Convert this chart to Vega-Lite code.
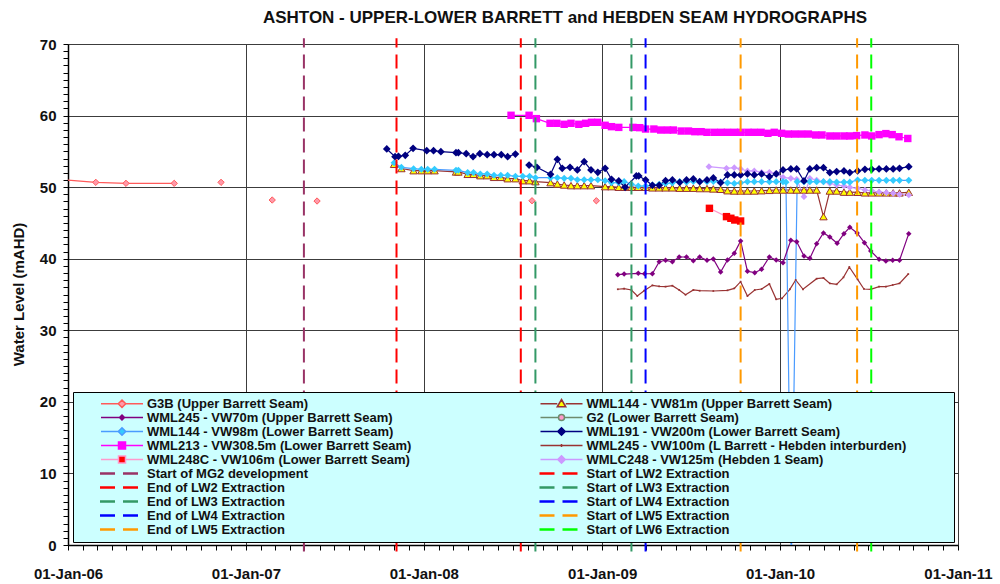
{
  "$schema": "https://vega.github.io/schema/vega-lite/v6.json",
  "width": 890,
  "height": 501,
  "autosize": {"type": "none"},
  "padding": {"left": 68, "top": 44, "right": 42, "bottom": 39},
  "background": "white",
  "config": {"view": {"stroke": null}, "font": "Liberation Sans"},
  "title": {"text": "ASHTON - UPPER-LOWER BARRETT and HEBDEN SEAM HYDROGRAPHS", "font": "Liberation Sans", "fontSize": 17, "fontWeight": "bold", "color": "#111111", "anchor": "middle", "dx": 52, "dy": 11, "offset": 8, "baseline": "alphabetic", "frame": "group"},
  "datasets": {
    "obs": [
      {"s": "G3B (Upper Barrett Seam)", "d": "2005-12-01", "v": 51.15, "g": 1},
      {"s": "G3B (Upper Barrett Seam)", "d": "2006-02-27", "v": 50.67, "g": 1},
      {"s": "G3B (Upper Barrett Seam)", "d": "2006-04-30", "v": 50.53, "g": 1},
      {"s": "G3B (Upper Barrett Seam)", "d": "2006-08-07", "v": 50.53, "g": 1},
      {"s": "G3B (Upper Barrett Seam)", "d": "2006-11-11", "v": 50.67, "g": 2},
      {"s": "G3B (Upper Barrett Seam)", "d": "2007-02-24", "v": 48.2, "g": 3},
      {"s": "G3B (Upper Barrett Seam)", "d": "2007-05-27", "v": 48.06, "g": 4},
      {"s": "G3B (Upper Barrett Seam)", "d": "2008-08-10", "v": 48.1, "g": 5},
      {"s": "G3B (Upper Barrett Seam)", "d": "2008-12-20", "v": 48.1, "g": 6},

      {"s": "WML245 - VW100m (L Barrett - Hebden interburden)", "d": "2009-02-02", "v": 35.73},
      {"s": "WML245 - VW100m (L Barrett - Hebden interburden)", "d": "2009-02-15", "v": 35.81},
      {"s": "WML245 - VW100m (L Barrett - Hebden interburden)", "d": "2009-03-02", "v": 35.63},
      {"s": "WML245 - VW100m (L Barrett - Hebden interburden)", "d": "2009-03-14", "v": 34.79},
      {"s": "WML245 - VW100m (L Barrett - Hebden interburden)", "d": "2009-03-28", "v": 35.53},
      {"s": "WML245 - VW100m (L Barrett - Hebden interburden)", "d": "2009-04-14", "v": 36.28},
      {"s": "WML245 - VW100m (L Barrett - Hebden interburden)", "d": "2009-04-28", "v": 36.14},
      {"s": "WML245 - VW100m (L Barrett - Hebden interburden)", "d": "2009-05-11", "v": 36.1},
      {"s": "WML245 - VW100m (L Barrett - Hebden interburden)", "d": "2009-05-25", "v": 36.23},
      {"s": "WML245 - VW100m (L Barrett - Hebden interburden)", "d": "2009-06-08", "v": 35.63},
      {"s": "WML245 - VW100m (L Barrett - Hebden interburden)", "d": "2009-06-21", "v": 34.97},
      {"s": "WML245 - VW100m (L Barrett - Hebden interburden)", "d": "2009-07-07", "v": 35.63},
      {"s": "WML245 - VW100m (L Barrett - Hebden interburden)", "d": "2009-07-20", "v": 35.53},
      {"s": "WML245 - VW100m (L Barrett - Hebden interburden)", "d": "2009-08-17", "v": 35.49},
      {"s": "WML245 - VW100m (L Barrett - Hebden interburden)", "d": "2009-09-15", "v": 35.58},
      {"s": "WML245 - VW100m (L Barrett - Hebden interburden)", "d": "2009-09-29", "v": 35.86},
      {"s": "WML245 - VW100m (L Barrett - Hebden interburden)", "d": "2009-10-12", "v": 36.79},
      {"s": "WML245 - VW100m (L Barrett - Hebden interburden)", "d": "2009-10-26", "v": 34.79},
      {"s": "WML245 - VW100m (L Barrett - Hebden interburden)", "d": "2009-11-10", "v": 35.63},
      {"s": "WML245 - VW100m (L Barrett - Hebden interburden)", "d": "2009-11-24", "v": 35.77},
      {"s": "WML245 - VW100m (L Barrett - Hebden interburden)", "d": "2009-12-10", "v": 36.47},
      {"s": "WML245 - VW100m (L Barrett - Hebden interburden)", "d": "2009-12-24", "v": 34.33},
      {"s": "WML245 - VW100m (L Barrett - Hebden interburden)", "d": "2010-01-05", "v": 34.47},
      {"s": "WML245 - VW100m (L Barrett - Hebden interburden)", "d": "2010-01-21", "v": 35.73},
      {"s": "WML245 - VW100m (L Barrett - Hebden interburden)", "d": "2010-02-02", "v": 37.03},
      {"s": "WML245 - VW100m (L Barrett - Hebden interburden)", "d": "2010-02-17", "v": 35.73},
      {"s": "WML245 - VW100m (L Barrett - Hebden interburden)", "d": "2010-03-17", "v": 37.21},
      {"s": "WML245 - VW100m (L Barrett - Hebden interburden)", "d": "2010-03-31", "v": 37.31},
      {"s": "WML245 - VW100m (L Barrett - Hebden interburden)", "d": "2010-04-13", "v": 36.56},
      {"s": "WML245 - VW100m (L Barrett - Hebden interburden)", "d": "2010-04-27", "v": 36.42},
      {"s": "WML245 - VW100m (L Barrett - Hebden interburden)", "d": "2010-05-11", "v": 37.4},
      {"s": "WML245 - VW100m (L Barrett - Hebden interburden)", "d": "2010-05-23", "v": 38.84},
      {"s": "WML245 - VW100m (L Barrett - Hebden interburden)", "d": "2010-06-09", "v": 37.12},
      {"s": "WML245 - VW100m (L Barrett - Hebden interburden)", "d": "2010-06-22", "v": 35.77},
      {"s": "WML245 - VW100m (L Barrett - Hebden interburden)", "d": "2010-07-06", "v": 35.73},
      {"s": "WML245 - VW100m (L Barrett - Hebden interburden)", "d": "2010-07-23", "v": 36.1},
      {"s": "WML245 - VW100m (L Barrett - Hebden interburden)", "d": "2010-08-06", "v": 36.1},
      {"s": "WML245 - VW100m (L Barrett - Hebden interburden)", "d": "2010-08-20", "v": 36.33},
      {"s": "WML245 - VW100m (L Barrett - Hebden interburden)", "d": "2010-09-03", "v": 36.56},
      {"s": "WML245 - VW100m (L Barrett - Hebden interburden)", "d": "2010-09-21", "v": 37.86},

      {"s": "WML248C - VW106m (Lower Barrett Seam)", "d": "2009-08-09", "v": 47.04},
      {"s": "WML248C - VW106m (Lower Barrett Seam)", "d": "2009-09-13", "v": 45.88},
      {"s": "WML248C - VW106m (Lower Barrett Seam)", "d": "2009-09-22", "v": 45.65},
      {"s": "WML248C - VW106m (Lower Barrett Seam)", "d": "2009-09-30", "v": 45.41},
      {"s": "WML248C - VW106m (Lower Barrett Seam)", "d": "2009-10-12", "v": 45.27},

      {"s": "WMLC248 - VW125m (Hebden 1 Seam)", "d": "2009-08-08", "v": 52.86},
      {"s": "WMLC248 - VW125m (Hebden 1 Seam)", "d": "2009-09-13", "v": 52.63},
      {"s": "WMLC248 - VW125m (Hebden 1 Seam)", "d": "2009-09-29", "v": 52.72},
      {"s": "WMLC248 - VW125m (Hebden 1 Seam)", "d": "2009-10-12", "v": 52.54},
      {"s": "WMLC248 - VW125m (Hebden 1 Seam)", "d": "2009-10-26", "v": 52.26},
      {"s": "WMLC248 - VW125m (Hebden 1 Seam)", "d": "2009-11-09", "v": 52.26},
      {"s": "WMLC248 - VW125m (Hebden 1 Seam)", "d": "2009-11-24", "v": 52.07},
      {"s": "WMLC248 - VW125m (Hebden 1 Seam)", "d": "2009-12-10", "v": 52.07},
      {"s": "WMLC248 - VW125m (Hebden 1 Seam)", "d": "2009-12-24", "v": 51.93},
      {"s": "WMLC248 - VW125m (Hebden 1 Seam)", "d": "2010-01-07", "v": 51.37},
      {"s": "WMLC248 - VW125m (Hebden 1 Seam)", "d": "2010-01-23", "v": 51.23},
      {"s": "WMLC248 - VW125m (Hebden 1 Seam)", "d": "2010-02-04", "v": 51.1},
      {"s": "WMLC248 - VW125m (Hebden 1 Seam)", "d": "2010-02-19", "v": 48.67},
      {"s": "WMLC248 - VW125m (Hebden 1 Seam)", "d": "2010-03-03", "v": 51.23},
      {"s": "WMLC248 - VW125m (Hebden 1 Seam)", "d": "2010-03-17", "v": 51.0},
      {"s": "WMLC248 - VW125m (Hebden 1 Seam)", "d": "2010-03-31", "v": 50.77},
      {"s": "WMLC248 - VW125m (Hebden 1 Seam)", "d": "2010-04-13", "v": 50.54},
      {"s": "WMLC248 - VW125m (Hebden 1 Seam)", "d": "2010-04-27", "v": 50.3},
      {"s": "WMLC248 - VW125m (Hebden 1 Seam)", "d": "2010-05-12", "v": 50.16},
      {"s": "WMLC248 - VW125m (Hebden 1 Seam)", "d": "2010-05-24", "v": 49.98},
      {"s": "WMLC248 - VW125m (Hebden 1 Seam)", "d": "2010-06-09", "v": 49.84},
      {"s": "WMLC248 - VW125m (Hebden 1 Seam)", "d": "2010-06-24", "v": 49.6},
      {"s": "WMLC248 - VW125m (Hebden 1 Seam)", "d": "2010-07-08", "v": 49.5},
      {"s": "WMLC248 - VW125m (Hebden 1 Seam)", "d": "2010-07-23", "v": 49.32},
      {"s": "WMLC248 - VW125m (Hebden 1 Seam)", "d": "2010-08-07", "v": 49.23},
      {"s": "WMLC248 - VW125m (Hebden 1 Seam)", "d": "2010-08-21", "v": 49.14},
      {"s": "WMLC248 - VW125m (Hebden 1 Seam)", "d": "2010-09-03", "v": 49.0},
      {"s": "WMLC248 - VW125m (Hebden 1 Seam)", "d": "2010-09-22", "v": 48.9},

      {"s": "WML144 - VW81m (Upper Barrett Seam)", "d": "2007-11-01", "v": 53.19},
      {"s": "WML144 - VW81m (Upper Barrett Seam)", "d": "2007-11-16", "v": 52.6},
      {"s": "WML144 - VW81m (Upper Barrett Seam)", "d": "2007-12-11", "v": 52.3},
      {"s": "WML144 - VW81m (Upper Barrett Seam)", "d": "2007-12-27", "v": 52.3},
      {"s": "WML144 - VW81m (Upper Barrett Seam)", "d": "2008-01-09", "v": 52.3},
      {"s": "WML144 - VW81m (Upper Barrett Seam)", "d": "2008-01-23", "v": 52.3},
      {"s": "WML144 - VW81m (Upper Barrett Seam)", "d": "2008-03-07", "v": 52.12},
      {"s": "WML144 - VW81m (Upper Barrett Seam)", "d": "2008-03-12", "v": 52.12},
      {"s": "WML144 - VW81m (Upper Barrett Seam)", "d": "2008-03-31", "v": 51.79},
      {"s": "WML144 - VW81m (Upper Barrett Seam)", "d": "2008-04-12", "v": 51.79},
      {"s": "WML144 - VW81m (Upper Barrett Seam)", "d": "2008-04-26", "v": 51.6},
      {"s": "WML144 - VW81m (Upper Barrett Seam)", "d": "2008-05-10", "v": 51.6},
      {"s": "WML144 - VW81m (Upper Barrett Seam)", "d": "2008-05-24", "v": 51.37},
      {"s": "WML144 - VW81m (Upper Barrett Seam)", "d": "2008-06-07", "v": 51.37},
      {"s": "WML144 - VW81m (Upper Barrett Seam)", "d": "2008-06-21", "v": 51.18},
      {"s": "WML144 - VW81m (Upper Barrett Seam)", "d": "2008-07-07", "v": 51.18},
      {"s": "WML144 - VW81m (Upper Barrett Seam)", "d": "2008-07-22", "v": 50.9},
      {"s": "WML144 - VW81m (Upper Barrett Seam)", "d": "2008-08-05", "v": 50.9},
      {"s": "WML144 - VW81m (Upper Barrett Seam)", "d": "2008-08-17", "v": 50.77},
      {"s": "WML144 - VW81m (Upper Barrett Seam)", "d": "2008-09-17", "v": 50.63},
      {"s": "WML144 - VW81m (Upper Barrett Seam)", "d": "2008-10-01", "v": 50.44},
      {"s": "WML144 - VW81m (Upper Barrett Seam)", "d": "2008-10-15", "v": 50.3},
      {"s": "WML144 - VW81m (Upper Barrett Seam)", "d": "2008-10-29", "v": 50.21},
      {"s": "WML144 - VW81m (Upper Barrett Seam)", "d": "2008-11-11", "v": 50.21},
      {"s": "WML144 - VW81m (Upper Barrett Seam)", "d": "2008-11-25", "v": 50.21},
      {"s": "WML144 - VW81m (Upper Barrett Seam)", "d": "2008-12-09", "v": 50.21},
      {"s": "WML144 - VW81m (Upper Barrett Seam)", "d": "2009-01-07", "v": 50.07},
      {"s": "WML144 - VW81m (Upper Barrett Seam)", "d": "2009-01-20", "v": 50.07},
      {"s": "WML144 - VW81m (Upper Barrett Seam)", "d": "2009-02-04", "v": 49.98},
      {"s": "WML144 - VW81m (Upper Barrett Seam)", "d": "2009-02-15", "v": 49.98},
      {"s": "WML144 - VW81m (Upper Barrett Seam)", "d": "2009-03-02", "v": 49.98},
      {"s": "WML144 - VW81m (Upper Barrett Seam)", "d": "2009-03-16", "v": 49.98},
      {"s": "WML144 - VW81m (Upper Barrett Seam)", "d": "2009-03-31", "v": 49.98},
      {"s": "WML144 - VW81m (Upper Barrett Seam)", "d": "2009-04-14", "v": 49.9},
      {"s": "WML144 - VW81m (Upper Barrett Seam)", "d": "2009-04-28", "v": 49.9},
      {"s": "WML144 - VW81m (Upper Barrett Seam)", "d": "2009-05-11", "v": 49.9},
      {"s": "WML144 - VW81m (Upper Barrett Seam)", "d": "2009-05-25", "v": 49.9},
      {"s": "WML144 - VW81m (Upper Barrett Seam)", "d": "2009-06-09", "v": 49.85},
      {"s": "WML144 - VW81m (Upper Barrett Seam)", "d": "2009-06-23", "v": 49.85},
      {"s": "WML144 - VW81m (Upper Barrett Seam)", "d": "2009-07-07", "v": 49.85},
      {"s": "WML144 - VW81m (Upper Barrett Seam)", "d": "2009-07-20", "v": 49.8},
      {"s": "WML144 - VW81m (Upper Barrett Seam)", "d": "2009-08-04", "v": 49.8},
      {"s": "WML144 - VW81m (Upper Barrett Seam)", "d": "2009-08-17", "v": 49.75},
      {"s": "WML144 - VW81m (Upper Barrett Seam)", "d": "2009-09-01", "v": 49.7},
      {"s": "WML144 - VW81m (Upper Barrett Seam)", "d": "2009-09-15", "v": 49.5},
      {"s": "WML144 - VW81m (Upper Barrett Seam)", "d": "2009-09-29", "v": 49.46},
      {"s": "WML144 - VW81m (Upper Barrett Seam)", "d": "2009-10-12", "v": 49.46},
      {"s": "WML144 - VW81m (Upper Barrett Seam)", "d": "2009-10-26", "v": 49.46},
      {"s": "WML144 - VW81m (Upper Barrett Seam)", "d": "2009-11-09", "v": 49.46},
      {"s": "WML144 - VW81m (Upper Barrett Seam)", "d": "2009-11-24", "v": 49.5},
      {"s": "WML144 - VW81m (Upper Barrett Seam)", "d": "2009-12-10", "v": 49.55},
      {"s": "WML144 - VW81m (Upper Barrett Seam)", "d": "2009-12-24", "v": 49.6},
      {"s": "WML144 - VW81m (Upper Barrett Seam)", "d": "2010-01-07", "v": 49.6},
      {"s": "WML144 - VW81m (Upper Barrett Seam)", "d": "2010-01-23", "v": 49.6},
      {"s": "WML144 - VW81m (Upper Barrett Seam)", "d": "2010-02-04", "v": 49.6},
      {"s": "WML144 - VW81m (Upper Barrett Seam)", "d": "2010-02-19", "v": 49.6},
      {"s": "WML144 - VW81m (Upper Barrett Seam)", "d": "2010-03-03", "v": 49.6},
      {"s": "WML144 - VW81m (Upper Barrett Seam)", "d": "2010-03-17", "v": 49.6},
      {"s": "WML144 - VW81m (Upper Barrett Seam)", "d": "2010-03-31", "v": 45.88},
      {"s": "WML144 - VW81m (Upper Barrett Seam)", "d": "2010-04-13", "v": 49.46},
      {"s": "WML144 - VW81m (Upper Barrett Seam)", "d": "2010-04-27", "v": 49.46},
      {"s": "WML144 - VW81m (Upper Barrett Seam)", "d": "2010-05-12", "v": 49.3},
      {"s": "WML144 - VW81m (Upper Barrett Seam)", "d": "2010-05-24", "v": 49.3},
      {"s": "WML144 - VW81m (Upper Barrett Seam)", "d": "2010-06-09", "v": 49.28},
      {"s": "WML144 - VW81m (Upper Barrett Seam)", "d": "2010-06-24", "v": 49.2},
      {"s": "WML144 - VW81m (Upper Barrett Seam)", "d": "2010-07-08", "v": 49.2},
      {"s": "WML144 - VW81m (Upper Barrett Seam)", "d": "2010-07-23", "v": 49.2},
      {"s": "WML144 - VW81m (Upper Barrett Seam)", "d": "2010-08-07", "v": 49.2},
      {"s": "WML144 - VW81m (Upper Barrett Seam)", "d": "2010-08-21", "v": 49.2},
      {"s": "WML144 - VW81m (Upper Barrett Seam)", "d": "2010-09-03", "v": 49.2},
      {"s": "WML144 - VW81m (Upper Barrett Seam)", "d": "2010-09-22", "v": 49.28},

      {"s": "WML144 - VW98m (Lower Barrett Seam)", "d": "2007-11-01", "v": 53.42},
      {"s": "WML144 - VW98m (Lower Barrett Seam)", "d": "2007-11-16", "v": 52.77},
      {"s": "WML144 - VW98m (Lower Barrett Seam)", "d": "2007-12-11", "v": 52.58},
      {"s": "WML144 - VW98m (Lower Barrett Seam)", "d": "2007-12-27", "v": 52.49},
      {"s": "WML144 - VW98m (Lower Barrett Seam)", "d": "2008-01-09", "v": 52.49},
      {"s": "WML144 - VW98m (Lower Barrett Seam)", "d": "2008-01-23", "v": 52.49},
      {"s": "WML144 - VW98m (Lower Barrett Seam)", "d": "2008-03-07", "v": 52.35},
      {"s": "WML144 - VW98m (Lower Barrett Seam)", "d": "2008-03-12", "v": 52.35},
      {"s": "WML144 - VW98m (Lower Barrett Seam)", "d": "2008-03-31", "v": 52.03},
      {"s": "WML144 - VW98m (Lower Barrett Seam)", "d": "2008-04-12", "v": 52.03},
      {"s": "WML144 - VW98m (Lower Barrett Seam)", "d": "2008-04-26", "v": 51.84},
      {"s": "WML144 - VW98m (Lower Barrett Seam)", "d": "2008-05-10", "v": 51.84},
      {"s": "WML144 - VW98m (Lower Barrett Seam)", "d": "2008-05-24", "v": 51.65},
      {"s": "WML144 - VW98m (Lower Barrett Seam)", "d": "2008-06-07", "v": 51.65},
      {"s": "WML144 - VW98m (Lower Barrett Seam)", "d": "2008-06-21", "v": 51.65},
      {"s": "WML144 - VW98m (Lower Barrett Seam)", "d": "2008-07-07", "v": 51.51},
      {"s": "WML144 - VW98m (Lower Barrett Seam)", "d": "2008-07-22", "v": 51.51},
      {"s": "WML144 - VW98m (Lower Barrett Seam)", "d": "2008-08-05", "v": 51.51},
      {"s": "WML144 - VW98m (Lower Barrett Seam)", "d": "2008-08-17", "v": 51.32},
      {"s": "WML144 - VW98m (Lower Barrett Seam)", "d": "2008-09-17", "v": 51.32},
      {"s": "WML144 - VW98m (Lower Barrett Seam)", "d": "2008-10-01", "v": 51.32},
      {"s": "WML144 - VW98m (Lower Barrett Seam)", "d": "2008-10-15", "v": 51.23},
      {"s": "WML144 - VW98m (Lower Barrett Seam)", "d": "2008-10-29", "v": 51.23},
      {"s": "WML144 - VW98m (Lower Barrett Seam)", "d": "2008-11-11", "v": 51.04},
      {"s": "WML144 - VW98m (Lower Barrett Seam)", "d": "2008-11-25", "v": 51.04},
      {"s": "WML144 - VW98m (Lower Barrett Seam)", "d": "2008-12-09", "v": 51.04},
      {"s": "WML144 - VW98m (Lower Barrett Seam)", "d": "2008-12-23", "v": 51.04},
      {"s": "WML144 - VW98m (Lower Barrett Seam)", "d": "2009-01-07", "v": 50.9},
      {"s": "WML144 - VW98m (Lower Barrett Seam)", "d": "2009-01-20", "v": 50.63},
      {"s": "WML144 - VW98m (Lower Barrett Seam)", "d": "2009-02-04", "v": 50.63},
      {"s": "WML144 - VW98m (Lower Barrett Seam)", "d": "2009-02-15", "v": 50.77},
      {"s": "WML144 - VW98m (Lower Barrett Seam)", "d": "2009-03-02", "v": 50.4},
      {"s": "WML144 - VW98m (Lower Barrett Seam)", "d": "2009-03-16", "v": 50.16},
      {"s": "WML144 - VW98m (Lower Barrett Seam)", "d": "2009-03-31", "v": 50.16},
      {"s": "WML144 - VW98m (Lower Barrett Seam)", "d": "2009-04-14", "v": 50.3},
      {"s": "WML144 - VW98m (Lower Barrett Seam)", "d": "2009-04-28", "v": 50.4},
      {"s": "WML144 - VW98m (Lower Barrett Seam)", "d": "2009-05-11", "v": 50.5},
      {"s": "WML144 - VW98m (Lower Barrett Seam)", "d": "2009-05-25", "v": 50.6},
      {"s": "WML144 - VW98m (Lower Barrett Seam)", "d": "2009-06-09", "v": 50.77},
      {"s": "WML144 - VW98m (Lower Barrett Seam)", "d": "2009-06-23", "v": 50.7},
      {"s": "WML144 - VW98m (Lower Barrett Seam)", "d": "2009-07-07", "v": 50.8},
      {"s": "WML144 - VW98m (Lower Barrett Seam)", "d": "2009-07-20", "v": 50.8},
      {"s": "WML144 - VW98m (Lower Barrett Seam)", "d": "2009-08-04", "v": 50.77},
      {"s": "WML144 - VW98m (Lower Barrett Seam)", "d": "2009-08-17", "v": 50.8},
      {"s": "WML144 - VW98m (Lower Barrett Seam)", "d": "2009-09-01", "v": 50.7},
      {"s": "WML144 - VW98m (Lower Barrett Seam)", "d": "2009-09-15", "v": 50.6},
      {"s": "WML144 - VW98m (Lower Barrett Seam)", "d": "2009-09-29", "v": 50.5},
      {"s": "WML144 - VW98m (Lower Barrett Seam)", "d": "2009-10-12", "v": 50.6},
      {"s": "WML144 - VW98m (Lower Barrett Seam)", "d": "2009-10-26", "v": 50.77},
      {"s": "WML144 - VW98m (Lower Barrett Seam)", "d": "2009-11-09", "v": 50.77},
      {"s": "WML144 - VW98m (Lower Barrett Seam)", "d": "2009-11-24", "v": 50.77},
      {"s": "WML144 - VW98m (Lower Barrett Seam)", "d": "2009-12-10", "v": 50.77},
      {"s": "WML144 - VW98m (Lower Barrett Seam)", "d": "2009-12-24", "v": 50.77},
      {"s": "WML144 - VW98m (Lower Barrett Seam)", "d": "2010-01-07", "v": 50.77},
      {"s": "WML144 - VW98m (Lower Barrett Seam)", "d": "2010-01-13", "v": 50.7},
      {"s": "WML144 - VW98m (Lower Barrett Seam)", "d": "2010-01-24", "v": -3},
      {"s": "WML144 - VW98m (Lower Barrett Seam)", "d": "2010-02-05", "v": 50.77},
      {"s": "WML144 - VW98m (Lower Barrett Seam)", "d": "2010-02-19", "v": 50.77},
      {"s": "WML144 - VW98m (Lower Barrett Seam)", "d": "2010-03-03", "v": 50.77},
      {"s": "WML144 - VW98m (Lower Barrett Seam)", "d": "2010-03-17", "v": 50.77},
      {"s": "WML144 - VW98m (Lower Barrett Seam)", "d": "2010-03-31", "v": 50.77},
      {"s": "WML144 - VW98m (Lower Barrett Seam)", "d": "2010-04-13", "v": 50.77},
      {"s": "WML144 - VW98m (Lower Barrett Seam)", "d": "2010-04-27", "v": 50.7},
      {"s": "WML144 - VW98m (Lower Barrett Seam)", "d": "2010-05-12", "v": 50.7},
      {"s": "WML144 - VW98m (Lower Barrett Seam)", "d": "2010-05-24", "v": 50.7},
      {"s": "WML144 - VW98m (Lower Barrett Seam)", "d": "2010-06-09", "v": 51.0},
      {"s": "WML144 - VW98m (Lower Barrett Seam)", "d": "2010-06-24", "v": 50.95},
      {"s": "WML144 - VW98m (Lower Barrett Seam)", "d": "2010-07-08", "v": 50.95},
      {"s": "WML144 - VW98m (Lower Barrett Seam)", "d": "2010-07-23", "v": 50.95},
      {"s": "WML144 - VW98m (Lower Barrett Seam)", "d": "2010-08-07", "v": 50.95},
      {"s": "WML144 - VW98m (Lower Barrett Seam)", "d": "2010-08-21", "v": 50.95},
      {"s": "WML144 - VW98m (Lower Barrett Seam)", "d": "2010-09-03", "v": 50.95},
      {"s": "WML144 - VW98m (Lower Barrett Seam)", "d": "2010-09-22", "v": 50.95},

      {"s": "WML191 - VW200m (Lower Barrett Seam)", "d": "2007-10-17", "v": 55.33, "g": 1},
      {"s": "WML191 - VW200m (Lower Barrett Seam)", "d": "2007-11-03", "v": 54.26, "g": 1},
      {"s": "WML191 - VW200m (Lower Barrett Seam)", "d": "2007-11-10", "v": 54.3, "g": 1},
      {"s": "WML191 - VW200m (Lower Barrett Seam)", "d": "2007-11-24", "v": 54.45, "g": 1},
      {"s": "WML191 - VW200m (Lower Barrett Seam)", "d": "2007-12-10", "v": 55.42, "g": 1},
      {"s": "WML191 - VW200m (Lower Barrett Seam)", "d": "2008-01-07", "v": 55.09, "g": 1},
      {"s": "WML191 - VW200m (Lower Barrett Seam)", "d": "2008-01-21", "v": 55.09, "g": 1},
      {"s": "WML191 - VW200m (Lower Barrett Seam)", "d": "2008-02-05", "v": 54.95, "g": 1},
      {"s": "WML191 - VW200m (Lower Barrett Seam)", "d": "2008-03-07", "v": 54.81, "g": 1},
      {"s": "WML191 - VW200m (Lower Barrett Seam)", "d": "2008-03-12", "v": 54.81, "g": 1},
      {"s": "WML191 - VW200m (Lower Barrett Seam)", "d": "2008-03-28", "v": 54.67, "g": 1},
      {"s": "WML191 - VW200m (Lower Barrett Seam)", "d": "2008-04-11", "v": 54.26, "g": 1},
      {"s": "WML191 - VW200m (Lower Barrett Seam)", "d": "2008-04-25", "v": 54.67, "g": 1},
      {"s": "WML191 - VW200m (Lower Barrett Seam)", "d": "2008-05-10", "v": 54.53, "g": 1},
      {"s": "WML191 - VW200m (Lower Barrett Seam)", "d": "2008-05-24", "v": 54.53, "g": 1},
      {"s": "WML191 - VW200m (Lower Barrett Seam)", "d": "2008-06-08", "v": 54.53, "g": 1},
      {"s": "WML191 - VW200m (Lower Barrett Seam)", "d": "2008-06-21", "v": 54.26, "g": 1},
      {"s": "WML191 - VW200m (Lower Barrett Seam)", "d": "2008-07-07", "v": 54.63, "g": 1},
      {"s": "WML191 - VW200m (Lower Barrett Seam)", "d": "2008-08-04", "v": 53.09, "g": 2},
      {"s": "WML191 - VW200m (Lower Barrett Seam)", "d": "2008-08-20", "v": 52.77, "g": 2},
      {"s": "WML191 - VW200m (Lower Barrett Seam)", "d": "2008-09-17", "v": 51.79, "g": 2},
      {"s": "WML191 - VW200m (Lower Barrett Seam)", "d": "2008-10-01", "v": 53.89, "g": 2},
      {"s": "WML191 - VW200m (Lower Barrett Seam)", "d": "2008-10-11", "v": 52.63, "g": 2},
      {"s": "WML191 - VW200m (Lower Barrett Seam)", "d": "2008-10-27", "v": 52.77, "g": 2},
      {"s": "WML191 - VW200m (Lower Barrett Seam)", "d": "2008-11-11", "v": 52.4, "g": 2},
      {"s": "WML191 - VW200m (Lower Barrett Seam)", "d": "2008-11-25", "v": 53.56, "g": 2},
      {"s": "WML191 - VW200m (Lower Barrett Seam)", "d": "2008-12-09", "v": 52.4, "g": 2},
      {"s": "WML191 - VW200m (Lower Barrett Seam)", "d": "2008-12-23", "v": 52.07, "g": 2},
      {"s": "WML191 - VW200m (Lower Barrett Seam)", "d": "2009-01-07", "v": 52.63, "g": 2},
      {"s": "WML191 - VW200m (Lower Barrett Seam)", "d": "2009-01-20", "v": 51.09, "g": 2},
      {"s": "WML191 - VW200m (Lower Barrett Seam)", "d": "2009-02-04", "v": 50.86, "g": 2},
      {"s": "WML191 - VW200m (Lower Barrett Seam)", "d": "2009-02-17", "v": 49.98, "g": 2},
      {"s": "WML191 - VW200m (Lower Barrett Seam)", "d": "2009-03-12", "v": 51.56, "g": 2},
      {"s": "WML191 - VW200m (Lower Barrett Seam)", "d": "2009-03-17", "v": 51.56, "g": 2},
      {"s": "WML191 - VW200m (Lower Barrett Seam)", "d": "2009-03-31", "v": 51.0, "g": 2},
      {"s": "WML191 - VW200m (Lower Barrett Seam)", "d": "2009-04-14", "v": 50.26, "g": 2},
      {"s": "WML191 - VW200m (Lower Barrett Seam)", "d": "2009-04-28", "v": 50.26, "g": 2},
      {"s": "WML191 - VW200m (Lower Barrett Seam)", "d": "2009-05-11", "v": 50.9, "g": 2},
      {"s": "WML191 - VW200m (Lower Barrett Seam)", "d": "2009-05-25", "v": 51.0, "g": 2},
      {"s": "WML191 - VW200m (Lower Barrett Seam)", "d": "2009-06-09", "v": 50.67, "g": 2},
      {"s": "WML191 - VW200m (Lower Barrett Seam)", "d": "2009-06-23", "v": 51.0, "g": 2},
      {"s": "WML191 - VW200m (Lower Barrett Seam)", "d": "2009-07-07", "v": 51.14, "g": 2},
      {"s": "WML191 - VW200m (Lower Barrett Seam)", "d": "2009-07-20", "v": 50.77, "g": 2},
      {"s": "WML191 - VW200m (Lower Barrett Seam)", "d": "2009-08-04", "v": 51.0, "g": 2},
      {"s": "WML191 - VW200m (Lower Barrett Seam)", "d": "2009-08-17", "v": 51.28, "g": 2},
      {"s": "WML191 - VW200m (Lower Barrett Seam)", "d": "2009-09-01", "v": 50.63, "g": 2},
      {"s": "WML191 - VW200m (Lower Barrett Seam)", "d": "2009-09-15", "v": 51.7, "g": 2},
      {"s": "WML191 - VW200m (Lower Barrett Seam)", "d": "2009-09-29", "v": 51.7, "g": 2},
      {"s": "WML191 - VW200m (Lower Barrett Seam)", "d": "2009-10-12", "v": 51.7, "g": 2},
      {"s": "WML191 - VW200m (Lower Barrett Seam)", "d": "2009-10-26", "v": 51.84, "g": 2},
      {"s": "WML191 - VW200m (Lower Barrett Seam)", "d": "2009-11-09", "v": 51.7, "g": 2},
      {"s": "WML191 - VW200m (Lower Barrett Seam)", "d": "2009-11-24", "v": 51.84, "g": 2},
      {"s": "WML191 - VW200m (Lower Barrett Seam)", "d": "2009-12-10", "v": 51.46, "g": 2},
      {"s": "WML191 - VW200m (Lower Barrett Seam)", "d": "2009-12-24", "v": 51.84, "g": 2},
      {"s": "WML191 - VW200m (Lower Barrett Seam)", "d": "2010-01-07", "v": 52.4, "g": 2},
      {"s": "WML191 - VW200m (Lower Barrett Seam)", "d": "2010-01-23", "v": 52.54, "g": 2},
      {"s": "WML191 - VW200m (Lower Barrett Seam)", "d": "2010-02-04", "v": 52.54, "g": 2},
      {"s": "WML191 - VW200m (Lower Barrett Seam)", "d": "2010-02-19", "v": 50.86, "g": 2},
      {"s": "WML191 - VW200m (Lower Barrett Seam)", "d": "2010-03-03", "v": 52.54, "g": 2},
      {"s": "WML191 - VW200m (Lower Barrett Seam)", "d": "2010-03-17", "v": 52.72, "g": 2},
      {"s": "WML191 - VW200m (Lower Barrett Seam)", "d": "2010-03-31", "v": 52.72, "g": 2},
      {"s": "WML191 - VW200m (Lower Barrett Seam)", "d": "2010-04-13", "v": 52.03, "g": 2},
      {"s": "WML191 - VW200m (Lower Barrett Seam)", "d": "2010-04-27", "v": 52.17, "g": 2},
      {"s": "WML191 - VW200m (Lower Barrett Seam)", "d": "2010-05-12", "v": 52.26, "g": 2},
      {"s": "WML191 - VW200m (Lower Barrett Seam)", "d": "2010-05-24", "v": 52.03, "g": 2},
      {"s": "WML191 - VW200m (Lower Barrett Seam)", "d": "2010-06-09", "v": 52.26, "g": 2},
      {"s": "WML191 - VW200m (Lower Barrett Seam)", "d": "2010-06-24", "v": 52.49, "g": 2},
      {"s": "WML191 - VW200m (Lower Barrett Seam)", "d": "2010-07-08", "v": 52.49, "g": 2},
      {"s": "WML191 - VW200m (Lower Barrett Seam)", "d": "2010-07-23", "v": 52.54, "g": 2},
      {"s": "WML191 - VW200m (Lower Barrett Seam)", "d": "2010-08-07", "v": 52.54, "g": 2},
      {"s": "WML191 - VW200m (Lower Barrett Seam)", "d": "2010-08-21", "v": 52.54, "g": 2},
      {"s": "WML191 - VW200m (Lower Barrett Seam)", "d": "2010-09-03", "v": 52.63, "g": 2},
      {"s": "WML191 - VW200m (Lower Barrett Seam)", "d": "2010-09-22", "v": 52.86, "g": 2},

      {"s": "WML245 - VW70m (Upper Barrett Seam)", "d": "2009-02-02", "v": 37.77},
      {"s": "WML245 - VW70m (Upper Barrett Seam)", "d": "2009-02-15", "v": 37.86},
      {"s": "WML245 - VW70m (Upper Barrett Seam)", "d": "2009-03-16", "v": 37.96},
      {"s": "WML245 - VW70m (Upper Barrett Seam)", "d": "2009-03-29", "v": 37.9},
      {"s": "WML245 - VW70m (Upper Barrett Seam)", "d": "2009-04-14", "v": 37.9},
      {"s": "WML245 - VW70m (Upper Barrett Seam)", "d": "2009-04-28", "v": 39.58},
      {"s": "WML245 - VW70m (Upper Barrett Seam)", "d": "2009-05-11", "v": 39.78},
      {"s": "WML245 - VW70m (Upper Barrett Seam)", "d": "2009-05-25", "v": 39.58},
      {"s": "WML245 - VW70m (Upper Barrett Seam)", "d": "2009-06-08", "v": 40.24},
      {"s": "WML245 - VW70m (Upper Barrett Seam)", "d": "2009-06-23", "v": 40.24},
      {"s": "WML245 - VW70m (Upper Barrett Seam)", "d": "2009-07-07", "v": 39.73},
      {"s": "WML245 - VW70m (Upper Barrett Seam)", "d": "2009-07-20", "v": 40.24},
      {"s": "WML245 - VW70m (Upper Barrett Seam)", "d": "2009-08-04", "v": 39.78},
      {"s": "WML245 - VW70m (Upper Barrett Seam)", "d": "2009-08-17", "v": 39.96},
      {"s": "WML245 - VW70m (Upper Barrett Seam)", "d": "2009-09-01", "v": 38.14},
      {"s": "WML245 - VW70m (Upper Barrett Seam)", "d": "2009-09-15", "v": 39.82},
      {"s": "WML245 - VW70m (Upper Barrett Seam)", "d": "2009-09-29", "v": 40.75},
      {"s": "WML245 - VW70m (Upper Barrett Seam)", "d": "2009-10-12", "v": 42.48},
      {"s": "WML245 - VW70m (Upper Barrett Seam)", "d": "2009-10-26", "v": 38.24},
      {"s": "WML245 - VW70m (Upper Barrett Seam)", "d": "2009-11-10", "v": 38.05},
      {"s": "WML245 - VW70m (Upper Barrett Seam)", "d": "2009-11-24", "v": 38.52},
      {"s": "WML245 - VW70m (Upper Barrett Seam)", "d": "2009-12-10", "v": 40.24},
      {"s": "WML245 - VW70m (Upper Barrett Seam)", "d": "2009-12-24", "v": 39.82},
      {"s": "WML245 - VW70m (Upper Barrett Seam)", "d": "2010-01-07", "v": 39.45},
      {"s": "WML245 - VW70m (Upper Barrett Seam)", "d": "2010-01-23", "v": 42.57},
      {"s": "WML245 - VW70m (Upper Barrett Seam)", "d": "2010-02-04", "v": 42.38},
      {"s": "WML245 - VW70m (Upper Barrett Seam)", "d": "2010-02-19", "v": 40.38},
      {"s": "WML245 - VW70m (Upper Barrett Seam)", "d": "2010-03-03", "v": 40.05},
      {"s": "WML245 - VW70m (Upper Barrett Seam)", "d": "2010-03-17", "v": 42.1},
      {"s": "WML245 - VW70m (Upper Barrett Seam)", "d": "2010-03-31", "v": 43.6},
      {"s": "WML245 - VW70m (Upper Barrett Seam)", "d": "2010-04-13", "v": 43.03},
      {"s": "WML245 - VW70m (Upper Barrett Seam)", "d": "2010-04-28", "v": 42.15},
      {"s": "WML245 - VW70m (Upper Barrett Seam)", "d": "2010-05-12", "v": 43.5},
      {"s": "WML245 - VW70m (Upper Barrett Seam)", "d": "2010-05-24", "v": 44.39},
      {"s": "WML245 - VW70m (Upper Barrett Seam)", "d": "2010-06-08", "v": 43.6},
      {"s": "WML245 - VW70m (Upper Barrett Seam)", "d": "2010-06-23", "v": 42.24},
      {"s": "WML245 - VW70m (Upper Barrett Seam)", "d": "2010-07-06", "v": 41.08},
      {"s": "WML245 - VW70m (Upper Barrett Seam)", "d": "2010-07-23", "v": 39.91},
      {"s": "WML245 - VW70m (Upper Barrett Seam)", "d": "2010-08-06", "v": 39.68},
      {"s": "WML245 - VW70m (Upper Barrett Seam)", "d": "2010-08-20", "v": 39.78},
      {"s": "WML245 - VW70m (Upper Barrett Seam)", "d": "2010-09-03", "v": 39.78},
      {"s": "WML245 - VW70m (Upper Barrett Seam)", "d": "2010-09-22", "v": 43.5},

      {"s": "WML213 - VW308.5m (Lower Barrett Seam)", "d": "2008-06-28", "v": 60.04},
      {"s": "WML213 - VW308.5m (Lower Barrett Seam)", "d": "2008-08-04", "v": 60.04},
      {"s": "WML213 - VW308.5m (Lower Barrett Seam)", "d": "2008-08-19", "v": 59.57},
      {"s": "WML213 - VW308.5m (Lower Barrett Seam)", "d": "2008-09-16", "v": 58.92},
      {"s": "WML213 - VW308.5m (Lower Barrett Seam)", "d": "2008-09-30", "v": 58.92},
      {"s": "WML213 - VW308.5m (Lower Barrett Seam)", "d": "2008-10-15", "v": 58.78},
      {"s": "WML213 - VW308.5m (Lower Barrett Seam)", "d": "2008-10-29", "v": 58.92},
      {"s": "WML213 - VW308.5m (Lower Barrett Seam)", "d": "2008-11-14", "v": 58.78},
      {"s": "WML213 - VW308.5m (Lower Barrett Seam)", "d": "2008-11-28", "v": 58.92},
      {"s": "WML213 - VW308.5m (Lower Barrett Seam)", "d": "2008-12-10", "v": 59.06},
      {"s": "WML213 - VW308.5m (Lower Barrett Seam)", "d": "2008-12-23", "v": 59.06},
      {"s": "WML213 - VW308.5m (Lower Barrett Seam)", "d": "2009-01-07", "v": 58.64},
      {"s": "WML213 - VW308.5m (Lower Barrett Seam)", "d": "2009-01-20", "v": 58.45},
      {"s": "WML213 - VW308.5m (Lower Barrett Seam)", "d": "2009-02-04", "v": 58.35},
      {"s": "WML213 - VW308.5m (Lower Barrett Seam)", "d": "2009-03-05", "v": 58.35},
      {"s": "WML213 - VW308.5m (Lower Barrett Seam)", "d": "2009-03-19", "v": 58.31},
      {"s": "WML213 - VW308.5m (Lower Barrett Seam)", "d": "2009-03-31", "v": 58.12},
      {"s": "WML213 - VW308.5m (Lower Barrett Seam)", "d": "2009-04-17", "v": 58.12},
      {"s": "WML213 - VW308.5m (Lower Barrett Seam)", "d": "2009-05-01", "v": 57.98},
      {"s": "WML213 - VW308.5m (Lower Barrett Seam)", "d": "2009-05-15", "v": 57.98},
      {"s": "WML213 - VW308.5m (Lower Barrett Seam)", "d": "2009-05-27", "v": 57.98},
      {"s": "WML213 - VW308.5m (Lower Barrett Seam)", "d": "2009-06-12", "v": 57.84},
      {"s": "WML213 - VW308.5m (Lower Barrett Seam)", "d": "2009-06-27", "v": 57.84},
      {"s": "WML213 - VW308.5m (Lower Barrett Seam)", "d": "2009-07-10", "v": 57.75},
      {"s": "WML213 - VW308.5m (Lower Barrett Seam)", "d": "2009-07-23", "v": 57.75},
      {"s": "WML213 - VW308.5m (Lower Barrett Seam)", "d": "2009-08-04", "v": 57.66},
      {"s": "WML213 - VW308.5m (Lower Barrett Seam)", "d": "2009-08-19", "v": 57.66},
      {"s": "WML213 - VW308.5m (Lower Barrett Seam)", "d": "2009-09-02", "v": 57.66},
      {"s": "WML213 - VW308.5m (Lower Barrett Seam)", "d": "2009-09-15", "v": 57.66},
      {"s": "WML213 - VW308.5m (Lower Barrett Seam)", "d": "2009-09-29", "v": 57.66},
      {"s": "WML213 - VW308.5m (Lower Barrett Seam)", "d": "2009-10-12", "v": 57.66},
      {"s": "WML213 - VW308.5m (Lower Barrett Seam)", "d": "2009-10-27", "v": 57.66},
      {"s": "WML213 - VW308.5m (Lower Barrett Seam)", "d": "2009-11-09", "v": 57.66},
      {"s": "WML213 - VW308.5m (Lower Barrett Seam)", "d": "2009-11-23", "v": 57.66},
      {"s": "WML213 - VW308.5m (Lower Barrett Seam)", "d": "2009-12-07", "v": 57.52},
      {"s": "WML213 - VW308.5m (Lower Barrett Seam)", "d": "2009-12-20", "v": 57.66},
      {"s": "WML213 - VW308.5m (Lower Barrett Seam)", "d": "2010-01-04", "v": 57.52},
      {"s": "WML213 - VW308.5m (Lower Barrett Seam)", "d": "2010-01-18", "v": 57.42},
      {"s": "WML213 - VW308.5m (Lower Barrett Seam)", "d": "2010-01-31", "v": 57.42},
      {"s": "WML213 - VW308.5m (Lower Barrett Seam)", "d": "2010-02-14", "v": 57.42},
      {"s": "WML213 - VW308.5m (Lower Barrett Seam)", "d": "2010-02-28", "v": 57.42},
      {"s": "WML213 - VW308.5m (Lower Barrett Seam)", "d": "2010-03-15", "v": 57.29},
      {"s": "WML213 - VW308.5m (Lower Barrett Seam)", "d": "2010-03-28", "v": 57.29},
      {"s": "WML213 - VW308.5m (Lower Barrett Seam)", "d": "2010-04-13", "v": 57.15},
      {"s": "WML213 - VW308.5m (Lower Barrett Seam)", "d": "2010-04-27", "v": 57.15},
      {"s": "WML213 - VW308.5m (Lower Barrett Seam)", "d": "2010-05-12", "v": 57.15},
      {"s": "WML213 - VW308.5m (Lower Barrett Seam)", "d": "2010-05-24", "v": 57.15},
      {"s": "WML213 - VW308.5m (Lower Barrett Seam)", "d": "2010-06-07", "v": 57.2},
      {"s": "WML213 - VW308.5m (Lower Barrett Seam)", "d": "2010-06-24", "v": 57.29},
      {"s": "WML213 - VW308.5m (Lower Barrett Seam)", "d": "2010-07-08", "v": 57.15},
      {"s": "WML213 - VW308.5m (Lower Barrett Seam)", "d": "2010-07-23", "v": 57.34},
      {"s": "WML213 - VW308.5m (Lower Barrett Seam)", "d": "2010-08-06", "v": 57.48},
      {"s": "WML213 - VW308.5m (Lower Barrett Seam)", "d": "2010-08-19", "v": 57.34},
      {"s": "WML213 - VW308.5m (Lower Barrett Seam)", "d": "2010-09-02", "v": 57.04},
      {"s": "WML213 - VW308.5m (Lower Barrett Seam)", "d": "2010-09-20", "v": 56.8}
    ],
    "events": [
      {"s": "Start of MG2 development", "d": "2007-04-30"},
      {"s": "Start of LW2 Extraction", "d": "2007-11-06"},
      {"s": "End of LW2 Extraction", "d": "2008-07-18"},
      {"s": "Start of LW3 Extraction", "d": "2008-08-17"},
      {"s": "End of LW3 Extraction", "d": "2009-03-02"},
      {"s": "Start of LW4 Extraction", "d": "2009-03-31"},
      {"s": "Start of LW5 Extraction", "d": "2009-10-12"},
      {"s": "End of LW5 Extraction", "d": "2010-06-08"},
      {"s": "Start of LW6 Extraction", "d": "2010-07-07"}
    ]
  },
  "resolve": {"axis": {"x": "independent", "y": "independent"}},
  "layer": [
    {
      "data": {"name": "events"},
      "transform": [{"filter": "false"}],
      "mark": {"type": "point", "filled": true, "opacity": 1, "strokeWidth": 1.5},
      "encoding": {
        "x": {"field": "d", "type": "temporal", "axis": null},
        "y": {"datum": 0, "type": "quantitative", "axis": null},
        "stroke": {"field": "s", "type": "nominal",
          "legend": {
            "orient": "none", "legendX": 5, "legendY": 348, "direction": "vertical", "columns": 2, "columnPadding": 8.5, "rowPadding": -2,
            "title": null, "padding": 5, "fillColor": "#CCFFFF", "strokeColor": "#000000",
            "labelFont": "Liberation Sans", "labelFontSize": 13, "labelFontWeight": "bold", "labelColor": "#111111", "labelLimit": 700, "labelOffset": 56,
            "symbolSize": 100, "symbolOffset": 0, "symbolStrokeWidth": 1.5, "symbolOpacity": 1,
            "symbolType": {"expr": "(indexof(datum.value,'Extraction')>=0||indexof(datum.value,'development')>=0) ? 'M0,0M84.3,0M3.1,-0.1H6.1M3.1,0.1H6.1M7.7,-0.1H10.7M7.7,0.1H10.7' : (indexof(datum.value,'WML213')>=0||indexof(datum.value,'WML248C')>=0) ? 'M0,0M84.3,0M3.3,0H6.8M8.2,0H11.7M6.8,-0.7H8.2V0.7H6.8Z' : indexof(datum.value,'VW81m')>=0 ? 'M0,0M84.3,0M3.3,0H6.65M8.35,0H11.7M7.5,-0.85L8.35,0.6H6.65Z' : indexof(datum.value,'G2 ')>=0 ? 'M0,0M84.3,0M3.3,0H6.9M8.1,0H11.7M8.1,0A0.6,0.6,0,1,1,6.9,0A0.6,0.6,0,1,1,8.1,0Z' : indexof(datum.value,'VW100m')>=0 ? 'M0,0M84.3,0M3.3,0H11.7M7.5,-0.3V0.3' : indexof(datum.value,'VW70m')>=0 ? 'M0,0M84.3,0M3.3,0H7M8,0H11.7M7.5,-0.5L8,0L7.5,0.5L7,0Z' : 'M0,0M84.3,0M3.3,0H6.75M8.25,0H11.7M7.5,-0.75L8.25,0L7.5,0.75L6.75,0Z'"}
          }},
        "fill": {"field": "s", "type": "nominal",
          "legend": {
            "orient": "none", "legendX": 5, "legendY": 348, "direction": "vertical", "columns": 2, "columnPadding": 8.5, "rowPadding": -2,
            "title": null, "padding": 5, "fillColor": "#CCFFFF", "strokeColor": "#000000",
            "labelFont": "Liberation Sans", "labelFontSize": 13, "labelFontWeight": "bold", "labelColor": "#111111", "labelLimit": 700, "labelOffset": 56,
            "symbolSize": 100, "symbolOffset": 0, "symbolStrokeWidth": 1.5, "symbolOpacity": 1}}
      }
    },
    {
      "data": {"name": "obs"},
      "mark": {"type": "line", "strokeWidth": 1.2, "clip": true},
      "encoding": {
        "x": {"field": "d", "type": "temporal",
          "scale": {"type": "utc", "domain": [{"year": 2006, "month": 1, "date": 1, "utc": true}, {"year": 2011, "month": 1, "date": 1, "utc": true}], "nice": false},
          "axis": {"orient": "bottom", "title": null, "format": "%d-%b-%y", "tickCount": {"interval": "year", "step": 1}, "grid": true, "gridColor": "#3c3c3c", "gridWidth": 1, "gridOpacity": 1, "ticks": false, "domain": true, "domainColor": "#000000", "domainWidth": 1.5, "labelFont": "Liberation Sans", "labelFontSize": 15, "labelFontWeight": "bold", "labelColor": "#111111", "labelPadding": 21, "labelFlush": false, "labelOverlap": false, "labelBound": false}},
        "y": {"field": "v", "type": "quantitative",
          "scale": {"domain": [0, 70], "nice": false, "zero": false},
          "axis": {"orient": "left", "title": "Water Level (mAHD)", "values": [0, 10, 20, 30, 40, 50, 60, 70], "format": "d", "grid": true, "gridColor": "#3c3c3c", "gridWidth": 1, "gridOpacity": 1, "ticks": false, "domain": true, "domainColor": "#000000", "domainWidth": 1.5, "labelFont": "Liberation Sans", "labelFontSize": 15, "labelFontWeight": "bold", "labelColor": "#111111", "labelPadding": 12, "titleFont": "Liberation Sans", "titleFontSize": 15, "titleFontWeight": "bold", "titleColor": "#111111", "titleX": -50, "titleY": 250, "titleAngle": 270, "titleAlign": "center", "titleBaseline": "middle"}},
        "detail": {"field": "g", "type": "nominal"},
        "stroke": {"field": "s", "type": "nominal",
          "scale": {
            "domain": ["G3B (Upper Barrett Seam)", "WML245 - VW70m (Upper Barrett Seam)", "WML144 - VW98m (Lower Barrett Seam)", "WML213 - VW308.5m (Lower Barrett Seam)", "WML248C - VW106m (Lower Barrett Seam)", "Start of MG2 development", "End of LW2 Extraction", "End of LW3 Extraction", "End of LW4 Extraction", "End of LW5 Extraction", "WML144 - VW81m (Upper Barrett Seam)", "G2 (Lower Barrett Seam)", "WML191 - VW200m (Lower Barrett Seam)", "WML245 - VW100m (L Barrett - Hebden interburden)", "WMLC248 - VW125m (Hebden 1 Seam)", "Start of LW2 Extraction", "Start of LW3 Extraction", "Start of LW4 Extraction", "Start of LW5 Extraction", "Start of LW6 Extraction"],
            "range": ["#FF5A5A", "#800080", "#4A9BFF", "#FF00FF", "#FF99CC", "#993366", "#FF0000", "#339966", "#0000FF", "#FF9900", "#993333", "#6E8B6E", "#000080", "#993333", "#CC99FF", "#FF0000", "#339966", "#0000FF", "#FF9900", "#00FF00"]}}
      }
    },
    {
      "data": {"name": "obs"},
      "transform": [{"filter": "datum.s === 'G3B (Upper Barrett Seam)' || datum.s === 'WML144 - VW81m (Upper Barrett Seam)'"}],
      "mark": {"type": "point", "filled": false, "strokeWidth": 1, "opacity": 1, "clip": true},
      "encoding": {
        "x": {"field": "d", "type": "temporal",
          "axis": {"orient": "bottom", "title": null, "labels": false, "grid": false, "domain": false, "ticks": true, "tickSize": 5, "tickColor": "#000000", "tickWidth": 1, "tickCount": {"interval": "month", "step": 1}}},
        "y": {"field": "v", "type": "quantitative",
          "axis": {"orient": "left", "title": null, "labels": false, "grid": false, "domain": false, "ticks": true, "tickSize": 5, "tickColor": "#000000", "tickWidth": 1, "values": [0,1,2,3,4,5,6,7,8,9,10,11,12,13,14,15,16,17,18,19,20,21,22,23,24,25,26,27,28,29,30,31,32,33,34,35,36,37,38,39,40,41,42,43,44,45,46,47,48,49,50,51,52,53,54,55,56,57,58,59,60,61,62,63,64,65,66,67,68,69,70]}},
        "stroke": {"field": "s", "type": "nominal"},
        "fill": {"field": "s", "type": "nominal",
          "scale": {
            "domain": ["G3B (Upper Barrett Seam)", "WML245 - VW70m (Upper Barrett Seam)", "WML144 - VW98m (Lower Barrett Seam)", "WML213 - VW308.5m (Lower Barrett Seam)", "WML248C - VW106m (Lower Barrett Seam)", "Start of MG2 development", "End of LW2 Extraction", "End of LW3 Extraction", "End of LW4 Extraction", "End of LW5 Extraction", "WML144 - VW81m (Upper Barrett Seam)", "G2 (Lower Barrett Seam)", "WML191 - VW200m (Lower Barrett Seam)", "WML245 - VW100m (L Barrett - Hebden interburden)", "WMLC248 - VW125m (Hebden 1 Seam)", "Start of LW2 Extraction", "Start of LW3 Extraction", "Start of LW4 Extraction", "Start of LW5 Extraction", "Start of LW6 Extraction"],
            "range": ["#FF99AA", "#800080", "#33CCFF", "#FF00FF", "#FF0000", "transparent", "transparent", "transparent", "transparent", "transparent", "#FFFF00", "#FF99CC", "#000080", "#993333", "#CC99FF", "transparent", "transparent", "transparent", "transparent", "transparent"]}},
        "shape": {"field": "s", "type": "nominal", "legend": null,
          "scale": {
            "domain": ["G3B (Upper Barrett Seam)", "WML245 - VW70m (Upper Barrett Seam)", "WML144 - VW98m (Lower Barrett Seam)", "WML213 - VW308.5m (Lower Barrett Seam)", "WML248C - VW106m (Lower Barrett Seam)", "WML144 - VW81m (Upper Barrett Seam)", "G2 (Lower Barrett Seam)", "WML191 - VW200m (Lower Barrett Seam)", "WML245 - VW100m (L Barrett - Hebden interburden)", "WMLC248 - VW125m (Hebden 1 Seam)"],
            "range": ["diamond", "diamond", "diamond", "square", "square", "triangle-up", "circle", "diamond", "square", "diamond"]}},
        "size": {"field": "s", "type": "nominal", "legend": null,
          "scale": {"type": "ordinal",
            "domain": ["G3B (Upper Barrett Seam)", "WML245 - VW70m (Upper Barrett Seam)", "WML144 - VW98m (Lower Barrett Seam)", "WML213 - VW308.5m (Lower Barrett Seam)", "WML248C - VW106m (Lower Barrett Seam)", "WML144 - VW81m (Upper Barrett Seam)", "G2 (Lower Barrett Seam)", "WML191 - VW200m (Lower Barrett Seam)", "WML245 - VW100m (L Barrett - Hebden interburden)", "WMLC248 - VW125m (Hebden 1 Seam)"],
            "range": [40, 30, 50, 55, 55, 55, 40, 60, 3, 45]}}
      }
    },
    {
      "data": {"name": "obs"},
      "transform": [{"filter": "datum.s !== 'G3B (Upper Barrett Seam)' && datum.s !== 'WML144 - VW81m (Upper Barrett Seam)'"}],
      "mark": {"type": "point", "filled": true, "opacity": 1, "strokeWidth": 0, "clip": true},
      "encoding": {
        "x": {"field": "d", "type": "temporal", "axis": null},
        "y": {"field": "v", "type": "quantitative", "axis": null},
        "fill": {"field": "s", "type": "nominal",
          "scale": {
            "domain": ["G3B (Upper Barrett Seam)", "WML245 - VW70m (Upper Barrett Seam)", "WML144 - VW98m (Lower Barrett Seam)", "WML213 - VW308.5m (Lower Barrett Seam)", "WML248C - VW106m (Lower Barrett Seam)", "Start of MG2 development", "End of LW2 Extraction", "End of LW3 Extraction", "End of LW4 Extraction", "End of LW5 Extraction", "WML144 - VW81m (Upper Barrett Seam)", "G2 (Lower Barrett Seam)", "WML191 - VW200m (Lower Barrett Seam)", "WML245 - VW100m (L Barrett - Hebden interburden)", "WMLC248 - VW125m (Hebden 1 Seam)", "Start of LW2 Extraction", "Start of LW3 Extraction", "Start of LW4 Extraction", "Start of LW5 Extraction", "Start of LW6 Extraction"],
            "range": ["#FF99AA", "#800080", "#33CCFF", "#FF00FF", "#FF0000", "transparent", "transparent", "transparent", "transparent", "transparent", "#FFFF00", "#FF99CC", "#000080", "#993333", "#CC99FF", "transparent", "transparent", "transparent", "transparent", "transparent"]}},
        "shape": {"field": "s", "type": "nominal", "legend": null,
          "scale": {
            "domain": ["G3B (Upper Barrett Seam)", "WML245 - VW70m (Upper Barrett Seam)", "WML144 - VW98m (Lower Barrett Seam)", "WML213 - VW308.5m (Lower Barrett Seam)", "WML248C - VW106m (Lower Barrett Seam)", "WML144 - VW81m (Upper Barrett Seam)", "G2 (Lower Barrett Seam)", "WML191 - VW200m (Lower Barrett Seam)", "WML245 - VW100m (L Barrett - Hebden interburden)", "WMLC248 - VW125m (Hebden 1 Seam)"],
            "range": ["diamond", "diamond", "diamond", "square", "square", "triangle-up", "circle", "diamond", "square", "diamond"]}},
        "size": {"field": "s", "type": "nominal", "legend": null,
          "scale": {"type": "ordinal",
            "domain": ["G3B (Upper Barrett Seam)", "WML245 - VW70m (Upper Barrett Seam)", "WML144 - VW98m (Lower Barrett Seam)", "WML213 - VW308.5m (Lower Barrett Seam)", "WML248C - VW106m (Lower Barrett Seam)", "WML144 - VW81m (Upper Barrett Seam)", "G2 (Lower Barrett Seam)", "WML191 - VW200m (Lower Barrett Seam)", "WML245 - VW100m (L Barrett - Hebden interburden)", "WMLC248 - VW125m (Hebden 1 Seam)"],
            "range": [40, 30, 50, 55, 55, 55, 40, 60, 3, 45]}}
      }
    },
    {
      "data": {"name": "events"},
      "mark": {"type": "rule", "strokeWidth": 2, "strokeDash": [14, 7]},
      "encoding": {
        "x": {"field": "d", "type": "temporal", "axis": null},
        "y": {"datum": -0.9, "type": "quantitative", "axis": null},
        "y2": {"datum": 70.8},
        "stroke": {"field": "s", "type": "nominal"}
      }
    }
  ]
}
